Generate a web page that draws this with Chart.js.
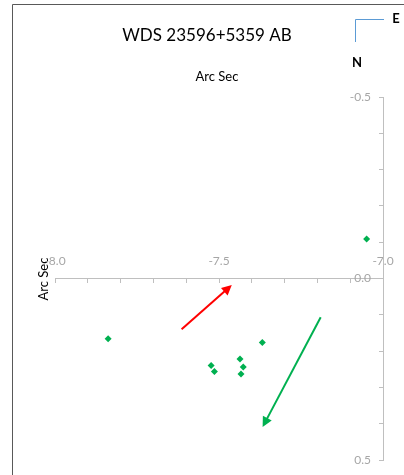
<!DOCTYPE html>
<html>
<head>
<meta charset="utf-8">
<script src="https://cdn.jsdelivr.net/npm/chart.js@4"></script>
<style>
  html, body { margin: 0; padding: 0; background: #fff; }
  #wrap { width: 404px; height: 475px; }
</style>
</head>
<body>
<div id="wrap"><canvas id="grafico" width="404" height="475"></canvas></div>
<script>
// datos
const tituloGrafico = 'WDS 23596+5359 AB';
const tituloEje = 'Arc Sec';
const posX = [-7.050, -7.838, -7.368, -7.524, -7.514, -7.436, -7.426, -7.433];
const posY = [-0.109, 0.166, 0.176, 0.240, 0.256, 0.222, 0.244, 0.263];
const xTicks = [-8.0, -7.5, -7.0];
const xTickLabels = ['-8.0', '-7.5', '-7.0'];
const yTicks = [-0.5, 0.0, 0.5];
const yTickLabels = ['-0.5', '0.0', '0.5'];
// flechas: [x inicio, y inicio, x punta, y punta]
const flechaRoja = [-7.614, 0.140, -7.461, 0.018];
const flechaVerde = [-7.190, 0.107, -7.367, 0.409];

const puntos = posX.map((x, i) => ({ x: x, y: posY[i] }));

function etiqueta(v, ticks, labels) {
    const r = Math.round(v * 10) / 10;
    const i = ticks.findIndex(t => Math.abs(t - r) < 1e-6);
    return i >= 0 ? labels[i] : '';
}

function dibujarFlecha(ctx, chart, f, color) {
    const sx = chart.scales.x, sy = chart.scales.y;
    const x1 = sx.getPixelForValue(f[0]), y1 = sy.getPixelForValue(f[1]);
    const x2 = sx.getPixelForValue(f[2]), y2 = sy.getPixelForValue(f[3]);
    const ang = Math.atan2(y2 - y1, x2 - x1);
    const largo = 10, ancho = 5;
    ctx.save();
    ctx.strokeStyle = color;
    ctx.fillStyle = color;
    ctx.lineWidth = 2;
    ctx.beginPath();
    ctx.moveTo(x1, y1);
    ctx.lineTo(x2 - Math.cos(ang) * largo * 0.8, y2 - Math.sin(ang) * largo * 0.8);
    ctx.stroke();
    ctx.beginPath();
    ctx.moveTo(x2, y2);
    ctx.lineTo(x2 - Math.cos(ang) * largo - Math.sin(ang) * ancho, y2 - Math.sin(ang) * largo + Math.cos(ang) * ancho);
    ctx.lineTo(x2 - Math.cos(ang) * largo + Math.sin(ang) * ancho, y2 - Math.sin(ang) * largo - Math.cos(ang) * ancho);
    ctx.closePath();
    ctx.fill();
    ctx.restore();
}

const extras = {
    id: 'extras',
    beforeDraw(chart) {
        const ctx = chart.ctx;
        ctx.save();
        ctx.fillStyle = '#fff';
        ctx.fillRect(0, 0, chart.width, chart.height);
        // marco
        ctx.strokeStyle = '#595959';
        ctx.lineWidth = 1;
        ctx.beginPath();
        ctx.moveTo(12.5, chart.height);
        ctx.lineTo(12.5, 4.5);
        ctx.lineTo(chart.width, 4.5);
        ctx.stroke();
        // textos
        ctx.fillStyle = '#000';
        ctx.textAlign = 'center';
        ctx.textBaseline = 'middle';
        ctx.font = '17px Lato';
        ctx.fillText(tituloGrafico, 207, 36);
        ctx.font = '13px Lato';
        ctx.fillText(tituloEje, 217, 77);
        ctx.save();
        ctx.translate(44, 279);
        ctx.rotate(-Math.PI / 2);
        ctx.fillText(tituloEje, 0, 0);
        ctx.restore();
        // brujula
        ctx.strokeStyle = '#5b9bd5';
        ctx.beginPath();
        ctx.moveTo(355.5, 42);
        ctx.lineTo(355.5, 19.5);
        ctx.lineTo(384, 19.5);
        ctx.stroke();
        ctx.font = 'bold 13px Lato';
        ctx.fillText('E', 396, 19);
        ctx.fillText('N', 357, 63);
        ctx.restore();
    },
    afterDraw(chart) {
        // etiquetas del eje Y a la izquierda del eje
        const ctx = chart.ctx;
        const sx = chart.scales.x, sy = chart.scales.y;
        const xEje = sx.getPixelForValue(-7);
        ctx.save();
        ctx.fillStyle = '#a6a6a6';
        ctx.font = '12px Lato';
        ctx.textAlign = 'right';
        ctx.textBaseline = 'middle';
        yTicks.forEach((v, i) => {
            ctx.fillText(yTickLabels[i], xEje - 12, sy.getPixelForValue(v));
        });
        ctx.restore();
    },
    afterDatasetsDraw(chart) {
        const ctx = chart.ctx;
        dibujarFlecha(ctx, chart, flechaRoja, '#ff0000');
        dibujarFlecha(ctx, chart, flechaVerde, '#00b050');
    }
};

new Chart(document.getElementById('grafico').getContext('2d'), {
    type: 'scatter',
    data: {
        datasets: [{
            data: puntos,
            pointStyle: 'rectRot',
            pointRadius: 3.5,
            pointHoverRadius: 3.5,
            backgroundColor: '#00b050',
            borderColor: '#00b050',
            borderWidth: 0
        }]
    },
    options: {
        responsive: false,
        animation: false,
        events: [],
        layout: { padding: { left: 55, right: 21, top: 97, bottom: 15 } },
        plugins: { legend: { display: false }, tooltip: { enabled: false } },
        scales: {
            x: {
                type: 'linear',
                position: { y: 0 },
                min: -8, max: -7,
                ticks: {
                    stepSize: 0.1,
                    autoSkip: false,
                    maxRotation: 0,
                    padding: -29,
                    color: '#a6a6a6',
                    font: { family: 'Lato', size: 12 },
                    callback: v => etiqueta(v, xTicks, xTickLabels)
                },
                grid: { drawOnChartArea: false, tickLength: 4, color: '#bfbfbf' },
                border: { color: '#bfbfbf' }
            },
            y: {
                type: 'linear',
                position: { x: -7 },
                reverse: true,
                min: -0.5, max: 0.5,
                ticks: {
                    stepSize: 0.1,
                    autoSkip: false,
                    display: false
                },
                grid: { drawOnChartArea: false, tickLength: 4, color: '#bfbfbf' },
                border: { color: '#bfbfbf' }
            }
        }
    },
    plugins: [extras]
});
</script>
</body>
</html>
